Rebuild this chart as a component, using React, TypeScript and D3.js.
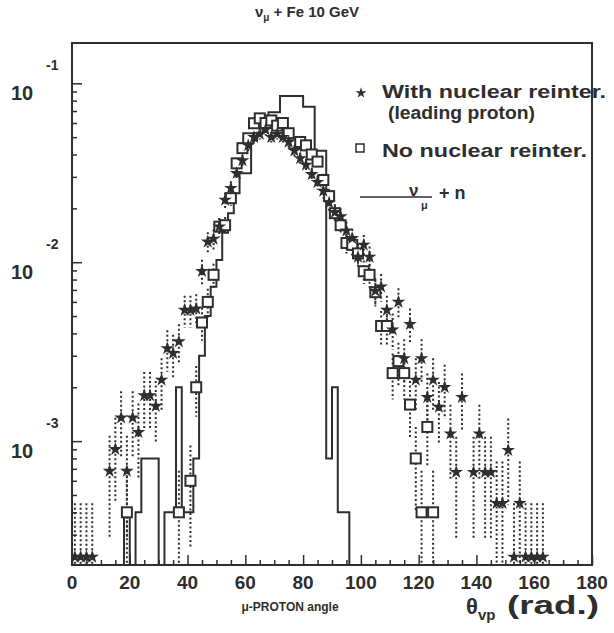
import React, { useEffect, useRef } from "react";
import * as d3 from "d3";

// leading proton, with nuclear reinteractions (stars)
const starAngles = [1, 3, 5, 7, 13, 15, 17, 19, 21, 23, 25, 27, 29, 31, 33, 35, 37, 39, 41, 43, 45, 47, 49, 51, 53, 55, 57, 59, 61, 63, 65, 67, 69, 71, 73, 75, 77, 79, 81, 83, 85, 87, 89, 91, 93, 95, 97, 99, 101, 103, 105, 107, 109, 111, 113, 115, 117, 119, 121, 123, 125, 127, 129, 131, 133, 135, 139, 141, 143, 145, 147, 149, 151, 153, 155, 157, 159, 161, 163];
const starValues = [2.25e-4, 2.25e-4, 2.25e-4, 2.25e-4, 6.8e-4, 9.0e-4, 1.35e-3, 6.8e-4, 1.35e-3, 1.12e-3, 1.8e-3, 1.8e-3, 1.57e-3, 2.2e-3, 3.3e-3, 3.1e-3, 3.6e-3, 5.4e-3, 5.4e-3, 5.5e-3, 8.9e-3, 0.013, 0.0135, 0.0158, 0.0223, 0.0259, 0.0314, 0.037, 0.045, 0.05, 0.052, 0.055, 0.05, 0.052, 0.05, 0.047, 0.042, 0.038, 0.035, 0.031, 0.028, 0.025, 0.0215, 0.019, 0.018, 0.015, 0.0136, 0.0107, 0.0125, 0.0107, 0.0069, 0.0073, 0.0054, 0.0042, 0.006, 0.0029, 0.0045, 0.0022, 0.0029, 0.00176, 0.0022, 0.00155, 0.002, 0.0011, 0.00067, 0.00176, 0.00067, 0.0011, 0.00067, 0.00067, 0.00045, 0.00045, 0.00089, 2.25e-4, 0.00045, 2.25e-4, 2.25e-4, 2.25e-4, 2.25e-4];

// no nuclear reinteractions (open squares)
const squareAngles = [19, 37, 41, 43, 45, 47, 49, 51, 53, 55, 57, 59, 61, 63, 65, 67, 69, 71, 73, 75, 77, 79, 81, 83, 85, 87, 89, 91, 93, 95, 97, 99, 101, 103, 105, 107, 109, 111, 113, 115, 117, 119, 121, 123, 125];
const squareValues = [4e-4, 4e-4, 6e-4, 2e-3, 4.6e-3, 6e-3, 8.5e-3, 0.0158, 0.0161, 0.0228, 0.0357, 0.0434, 0.0493, 0.0598, 0.0637, 0.06, 0.062, 0.058, 0.06, 0.0526, 0.046, 0.047, 0.045, 0.04, 0.0365, 0.0288, 0.0234, 0.0188, 0.0161, 0.0128, 0.0125, 0.0112, 0.0089, 0.0085, 0.0068, 0.0044, 0.0044, 0.0024, 0.0028, 0.0024, 0.0016, 0.0008, 0.0004, 0.0012, 0.0004];

// nu_mu + n histogram, bin edges and contents
const histEdges = [16, 18, 20, 22, 24, 26, 28, 30, 32, 34, 36, 38, 40, 42, 44, 46, 48, 50, 52, 54, 56, 58, 60, 62, 64, 66, 68, 70, 72, 74, 76, 78, 80, 82, 84, 86, 88, 90, 92, 94, 96];
const histValues = [0, 4e-4, 0, 4e-4, 8e-4, 8e-4, 8e-4, 0, 4e-4, 4e-4, 2e-3, 4e-4, 4e-4, 8e-4, 3e-3, 5e-3, 7.3e-3, 0.0103, 0.0146, 0.0188, 0.0243, 0.0314, 0.0314, 0.048, 0.053, 0.06, 0.069, 0.069, 0.085, 0.085, 0.085, 0.085, 0.074, 0.074, 0.042, 0.042, 8e-4, 2e-3, 4e-4, 4e-4, 0];

const xTickLabels = [0, 20, 40, 60, 80, 100, 120, 140, 160, 180];
const yDecades = [-1, -2, -3];

// counts -> value scale used for the poisson error bars
const STAR_UNIT = 2.25e-4;
const SQUARE_UNIT = 2.0e-4;

const INK = "#2e2e2e";
const FONT = "'Liberation Sans', Arial, sans-serif";

function App() {
  const ref = useRef<SVGSVGElement>(null);

  useEffect(() => {
    const svg = d3.select(ref.current);
    svg.selectAll("*").remove();

    const left = 72, right = 592, top = 43, bottom = 565;
    const x = d3.scaleLinear().domain([0, 180]).range([left, right]);
    const y = d3.scaleLog().domain([2.03e-4, 0.168]).range([bottom, top]);
    const yv = (v: number) => (v > 0 ? y(Math.max(v, 1e-5)) : bottom + 10);

    svg.append("defs").append("clipPath").attr("id", "plotclip")
      .append("rect").attr("x", left).attr("y", top).attr("width", right - left).attr("height", bottom - top);

    // title
    const title = svg.append("text").attr("x", 307).attr("y", 17).attr("text-anchor", "middle")
      .attr("font-family", FONT).attr("font-weight", "bold").attr("font-size", 15).attr("fill", INK);
    title.append("tspan").text("ν");
    title.append("tspan").attr("font-size", 10).attr("dy", 4).text("μ");
    title.append("tspan").attr("dy", -4).text(" + Fe 10 GeV");

    const plot = svg.append("g").attr("clip-path", "url(#plotclip)");

    // histogram nu_mu + n
    const histPts: [number, number][] = histEdges.map((e, i) => [e, i < histValues.length ? histValues[i] : 0]);
    const step = d3.line<[number, number]>().x(d => x(d[0])).y(d => yv(d[1])).curve(d3.curveStepAfter);
    plot.append("path").attr("d", step(histPts)).attr("fill", "none").attr("stroke", INK).attr("stroke-width", 2);

    // error bars
    const errBars = (angles: number[], values: number[], unit: number) => {
      angles.forEach((a, i) => {
        const v = values[i];
        const e = Math.sqrt(v / unit) * unit;
        plot.append("line")
          .attr("x1", x(a)).attr("x2", x(a))
          .attr("y1", yv(v + e)).attr("y2", v - e > 0 ? yv(v - e) : bottom + 10)
          .attr("stroke", INK).attr("stroke-width", 2).attr("stroke-dasharray", "2,2.5");
      });
    };
    errBars(starAngles, starValues, STAR_UNIT);
    errBars(squareAngles, squareValues, SQUARE_UNIT);

    // squares
    plot.selectAll("rect.sq").data(squareAngles).enter().append("rect").attr("class", "sq")
      .attr("x", a => x(a) - 5).attr("y", (a, i) => yv(squareValues[i]) - 5)
      .attr("width", 10).attr("height", 10).attr("fill", "white").attr("stroke", INK).attr("stroke-width", 2);

    // stars
    const star = d3.symbol().type(d3.symbolStar).size(58);
    plot.selectAll("path.st").data(starAngles).enter().append("path").attr("class", "st")
      .attr("d", star()).attr("transform", (a, i) => `translate(${x(a)},${yv(starValues[i])})`)
      .attr("fill", INK);

    // frame
    svg.append("rect").attr("x", left).attr("y", top).attr("width", right - left).attr("height", bottom - top)
      .attr("fill", "none").attr("stroke", INK).attr("stroke-width", 2);

    // x ticks (inward)
    const xAxis = d3.axisBottom(x).tickValues(d3.range(0, 181, 5)).tickSize(0).tickFormat(() => "");
    const gx = svg.append("g").attr("transform", `translate(0,${bottom})`).call(xAxis);
    gx.select(".domain").remove();
    gx.selectAll(".tick line").attr("y2", (d: any) => (d % 20 === 0 ? -10 : -5)).attr("stroke", INK).attr("stroke-width", 1.5);

    svg.selectAll("text.xl").data(xTickLabels).enter().append("text").attr("class", "xl")
      .attr("x", d => x(d)).attr("y", 589).attr("text-anchor", "middle")
      .attr("font-family", FONT).attr("font-weight", "bold").attr("font-size", 19).attr("fill", INK)
      .text(d => d);

    // y ticks (inward)
    const yTicks = y.ticks().filter(t => t >= 2e-4 && t <= 0.168);
    const yAxis = d3.axisLeft(y).tickValues(yTicks).tickSize(0).tickFormat(() => "");
    const gy = svg.append("g").attr("transform", `translate(${left},0)`).call(yAxis);
    gy.select(".domain").remove();
    gy.selectAll(".tick line").attr("x2", (d: any) => {
      const m = d / Math.pow(10, Math.floor(Math.log10(d) + 1e-9));
      return Math.abs(m - 1) < 1e-6 ? 10 : 5;
    }).attr("stroke", INK).attr("stroke-width", 1.5);

    yDecades.forEach(p => {
      const yy = y(Math.pow(10, p));
      svg.append("text").attr("x", 11).attr("y", yy + 17)
        .attr("font-family", FONT).attr("font-weight", "bold").attr("font-size", 20).attr("fill", INK).text("10");
      svg.append("text").attr("x", 46).attr("y", yy - 13)
        .attr("font-family", FONT).attr("font-weight", "bold").attr("font-size", 14).attr("fill", INK).text(String(p));
    });

    // x axis titles
    svg.append("text").attr("x", 290).attr("y", 611).attr("text-anchor", "middle")
      .attr("font-family", FONT).attr("font-weight", "bold").attr("font-size", 12).attr("fill", INK).text("μ-PROTON angle");
    const xt = svg.append("text").attr("x", 466).attr("y", 614)
      .attr("font-family", FONT).attr("font-weight", "bold").attr("font-size", 22).attr("fill", INK);
    xt.append("tspan").text("θ");
    xt.append("tspan").attr("font-size", 15).attr("dy", 6).text("vp");
    svg.append("text").attr("x", 507).attr("y", 614).attr("textLength", 92).attr("lengthAdjust", "spacingAndGlyphs")
      .attr("font-family", FONT).attr("font-weight", "bold").attr("font-size", 25).attr("fill", INK).text("(rad.)");

    // legend
    const lg = svg.append("g").attr("font-family", FONT).attr("font-weight", "bold").attr("fill", INK);
    lg.append("path").attr("d", d3.symbol().type(d3.symbolStar).size(36)()).attr("transform", "translate(361,93)").attr("fill", INK);
    lg.append("text").attr("x", 382).attr("y", 98).attr("font-size", 18).attr("textLength", 224).attr("lengthAdjust", "spacingAndGlyphs").text("With nuclear reinter.");
    lg.append("text").attr("x", 388).attr("y", 119).attr("font-size", 18).attr("textLength", 147).attr("lengthAdjust", "spacingAndGlyphs").text("(leading proton)");
    lg.append("rect").attr("x", 356).attr("y", 144).attr("width", 8).attr("height", 8).attr("fill", "white").attr("stroke", INK).attr("stroke-width", 1.5);
    lg.append("text").attr("x", 382).attr("y", 157).attr("font-size", 19).attr("textLength", 205).attr("lengthAdjust", "spacingAndGlyphs").text("No nuclear reinter.");
    lg.append("line").attr("x1", 360).attr("x2", 432).attr("y1", 197).attr("y2", 197).attr("stroke", INK).attr("stroke-width", 1.5);
    lg.append("text").attr("x", 409).attr("y", 196).attr("font-size", 17).text("ν");
    lg.append("text").attr("x", 421).attr("y", 209).attr("font-size", 11).text("μ");
    lg.append("text").attr("x", 439).attr("y", 199).attr("font-size", 18).text("+ n");
  }, []);

  return (
    <svg ref={ref} width={614} height={633} style={{ position: "absolute", left: 0, top: 0, background: "white" }} />
  );
}

export default App;
